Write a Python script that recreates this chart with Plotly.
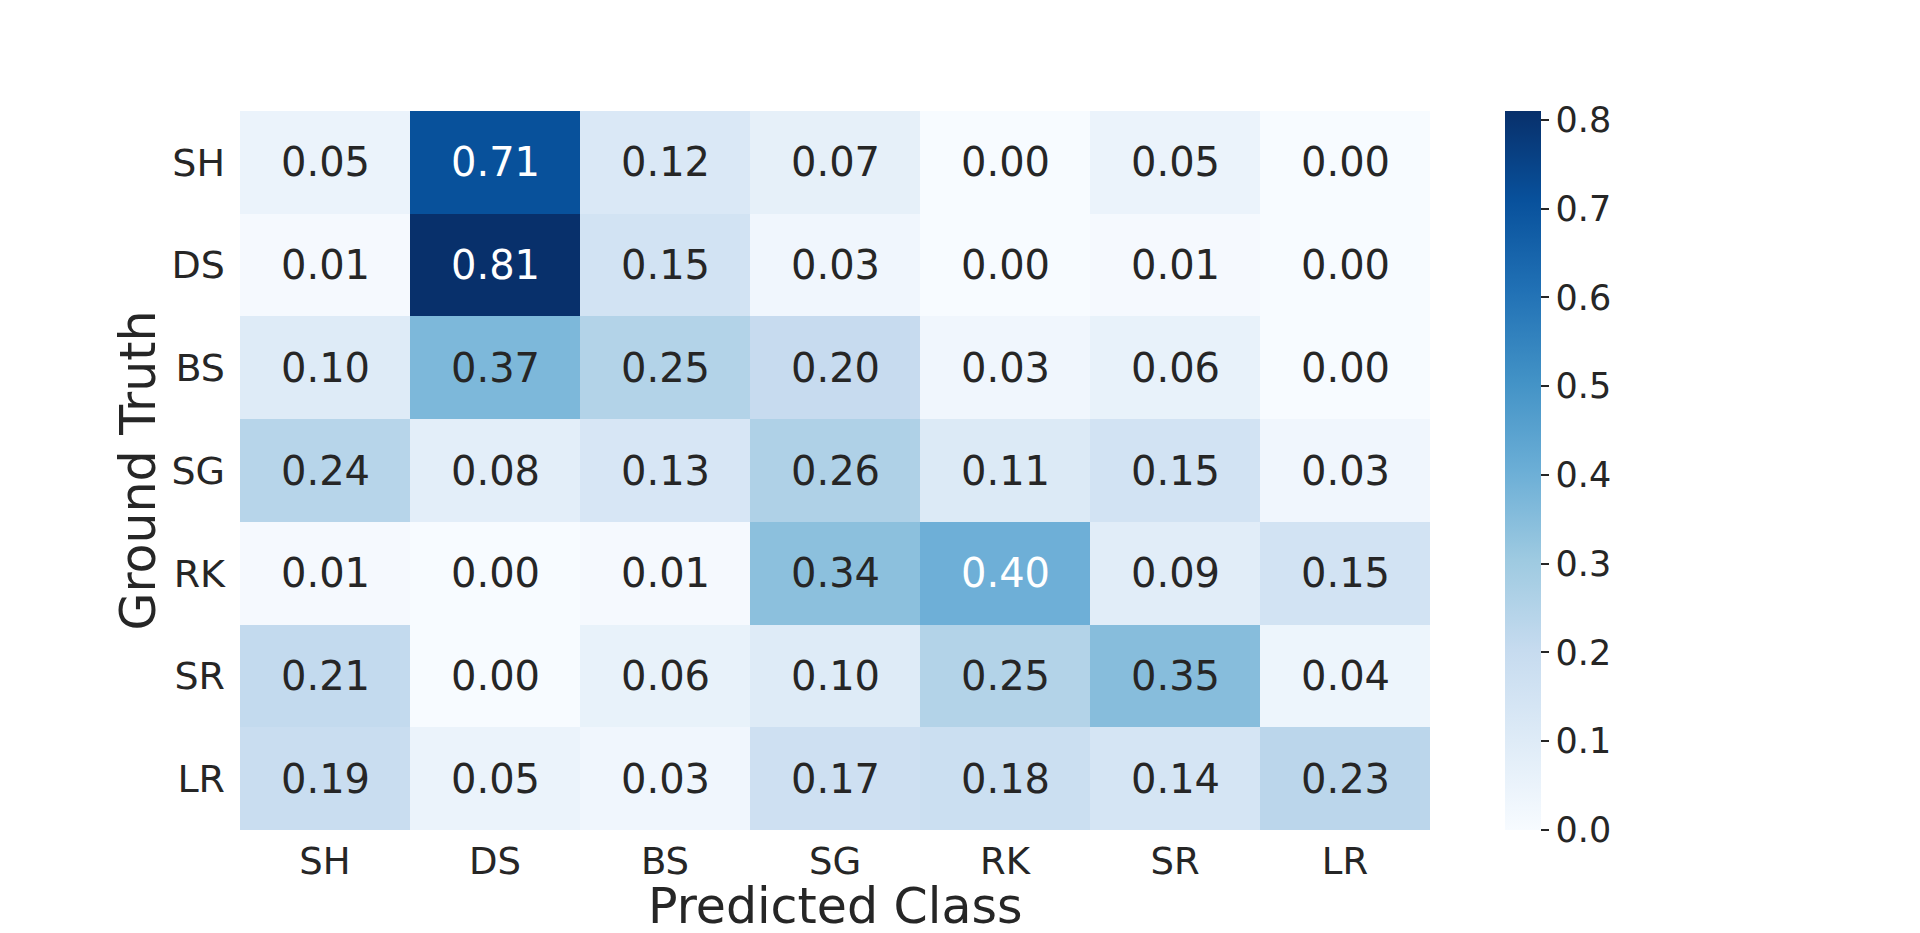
import plotly.graph_objects as go
import plotly.colors as pc

# --- data ---
classes = ["SH", "DS", "BS", "SG", "RK", "SR", "LR"]

row_sh = [0.05, 0.71, 0.12, 0.07, 0.00, 0.05, 0.00]
row_ds = [0.01, 0.81, 0.15, 0.03, 0.00, 0.01, 0.00]
row_bs = [0.10, 0.37, 0.25, 0.20, 0.03, 0.06, 0.00]
row_sg = [0.24, 0.08, 0.13, 0.26, 0.11, 0.15, 0.03]
row_rk = [0.01, 0.00, 0.01, 0.34, 0.40, 0.09, 0.15]
row_sr = [0.21, 0.00, 0.06, 0.10, 0.25, 0.35, 0.04]
row_lr = [0.19, 0.05, 0.03, 0.17, 0.18, 0.14, 0.23]

matrix = [row_sh, row_ds, row_bs, row_sg, row_rk, row_sr, row_lr]
cbar_ticks = [0.0, 0.1, 0.2, 0.3, 0.4, 0.5, 0.6, 0.7, 0.8]

FONT = "DejaVu Sans"
DARK = "#262626"

zmax = max(max(r) for r in matrix)

fig = go.Figure(go.Heatmap(
    z=matrix,
    x=classes,
    y=classes,
    zmin=0,
    zmax=zmax,
    colorscale=pc.sequential.Blues,
    colorbar=dict(
        x=1.063, xanchor="left", xpad=0,
        y=0.5, yanchor="middle", ypad=0,
        len=1.0, lenmode="fraction",
        thickness=36,
        outlinewidth=0,
        tickvals=cbar_ticks,
        ticktext=[f"{t:.1f}" for t in cbar_ticks],
        ticks="outside", ticklen=8, tickwidth=2, tickcolor=DARK,
        tickfont=dict(family=FONT, size=35, color=DARK),
    ),
    hoverinfo="skip",
))

# cell labels: white on dark cells, dark grey elsewhere
for i, row in enumerate(matrix):
    for j, v in enumerate(row):
        fig.add_annotation(
            x=classes[j], y=classes[i],
            text=f"{v:.2f}",
            showarrow=False,
            font=dict(family=FONT, size=40, color="white" if v >= 0.38 else DARK),
        )

# axis titles as paper annotations so they sit where the reference has them
fig.add_annotation(
    text="Predicted Class", xref="paper", yref="paper",
    x=0.5, y=-0.107, xanchor="center", yanchor="middle",
    showarrow=False, font=dict(family=FONT, size=49, color=DARK),
)
fig.add_annotation(
    text="Ground Truth", xref="paper", yref="paper",
    x=-0.0857, y=0.5, xanchor="center", yanchor="middle", textangle=-90,
    showarrow=False, font=dict(family=FONT, size=49, color=DARK),
)

fig.update_layout(
    width=1920, height=933,
    margin=dict(l=240, r=490, t=111, b=103, autoexpand=False),
    paper_bgcolor="white",
    plot_bgcolor="white",
    font=dict(family=FONT, color=DARK),
)

fig.update_xaxes(
    automargin=False,
    showgrid=False, zeroline=False, showline=False,
    tickfont=dict(family=FONT, size=37, color=DARK),
    ticklabelstandoff=6,
)
fig.update_yaxes(
    automargin=False,
    autorange="reversed",
    showgrid=False, zeroline=False, showline=False,
    tickfont=dict(family=FONT, size=38, color=DARK),
    ticklabelstandoff=14,
)

# drop the default 8px body margin so the 1920x933 figure fills the window
fig.write_html(
    "out.html",
    config={"displayModeBar": False},
    post_script="document.body.style.margin='0';",
)
